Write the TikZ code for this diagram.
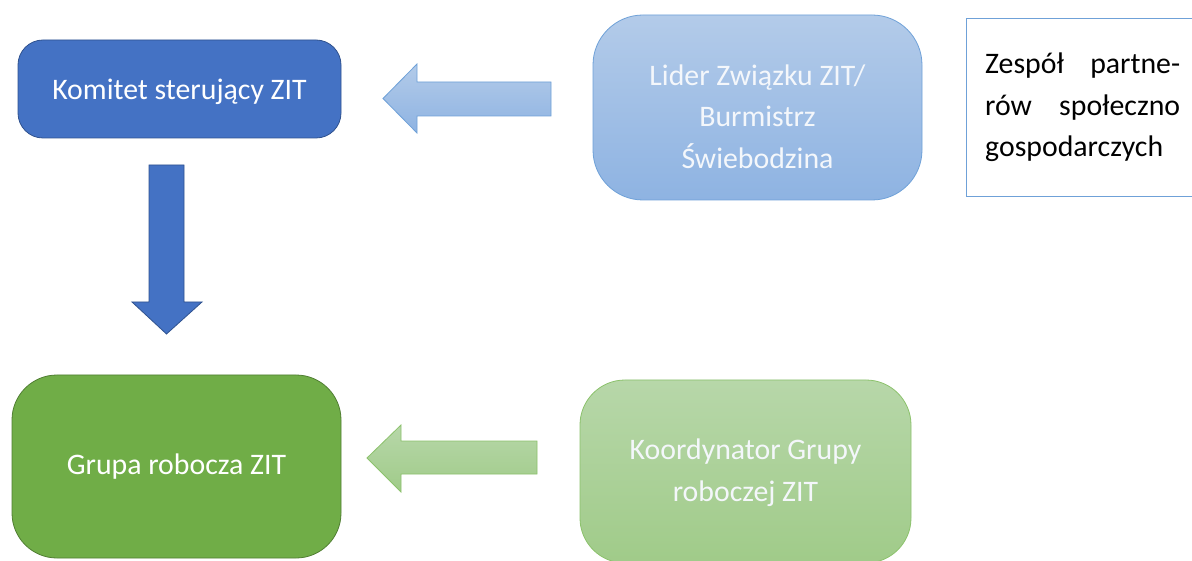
\documentclass[tikz,border=0pt]{standalone}
\usepackage{fontspec}
\setmainfont{Carlito}
\definecolor{dblue}{HTML}{4472C4}
\definecolor{dblueb}{HTML}{2F528F}
\definecolor{lbluet}{HTML}{B3CBE9}
\definecolor{lblueb}{HTML}{8EB3E2}
\definecolor{lblued}{HTML}{6FA1D8}
\definecolor{dgreen}{HTML}{70AD47}
\definecolor{dgreenb}{HTML}{507E32}
\definecolor{lgreent}{HTML}{B7D7A9}
\definecolor{lgreenb}{HTML}{A0CB89}
\definecolor{lgreend}{HTML}{8CC26C}
\definecolor{ltext}{HTML}{F4F7FB}
\begin{document}
\begin{tikzpicture}[x=1pt,y=-1pt,font=\fontsize{29.8}{41.5}\selectfont,
  darkbox/.style={rounded corners=#1,inner sep=0pt,align=center,text=white,line width=0.8pt},
  lightbox/.style={rounded corners=#1,inner sep=0pt,align=center,text=ltext,line width=0.8pt},
  boxtext/.style={align=center,inner sep=0pt}]
\useasboundingbox (0,0) rectangle (1192,561);
\fill[white] (0,0) rectangle (1192,561);
\node[darkbox=25pt,fill=dblue,draw=dblueb,minimum width=323pt,minimum height=98pt,
  label={[boxtext,text=white,yshift=-3pt]center:Komitet sterujący ZIT}] (kom) at (179.5,89) {};
\node[lightbox=50pt,top color=lbluet,bottom color=lblueb,draw=lblued,minimum width=329pt,minimum height=185pt,
  label={[boxtext,text=ltext,yshift=-9pt]center:Lider Związku ZIT/\\Burmistrz\\Świebodzina}] (lid) at (757.5,107.5) {};
\node[darkbox=45pt,fill=dgreen,draw=dgreenb,minimum width=329pt,minimum height=183pt] (gru) at (176.5,466.5) {Grupa robocza ZIT};
\node[lightbox=45pt,top color=lgreent,bottom color=lgreenb,draw=lgreend,minimum width=331pt,minimum height=183pt,
  label={[boxtext,text=ltext,yshift=-1pt]center:Koordynator Grupy\\roboczej ZIT}] (koo) at (745.5,471.5) {};
\draw[lblued,line width=0.8pt] (1195,18) -- (966,18) -- (966,196) -- (1195,196);
\node[anchor=north west,inner sep=0pt,text width=195pt,align=justify] (zes) at (985,53)
  {Zespół\hfill partne-\\rów\hfill społeczno\\gospodarczych};
% arrows
\draw[fill=dblue,draw=dblueb,line width=0.8pt] (149,165) -- (184,165) -- (184,302) -- (202,302) -- (166.5,334) -- (132,302) -- (149,302) -- cycle;
\draw[top color=lbluet,bottom color=lblueb,draw=lblued,line width=0.8pt] (551,82) -- (417,82) -- (417,64) -- (383,98.5) -- (417,133) -- (417,116) -- (551,116) -- cycle;
\draw[top color=lgreent,bottom color=lgreenb,draw=lgreend,line width=0.8pt] (537,441) -- (401,441) -- (401,425) -- (367,458) -- (401,492) -- (401,474) -- (537,474) -- cycle;
\end{tikzpicture}
\end{document}
